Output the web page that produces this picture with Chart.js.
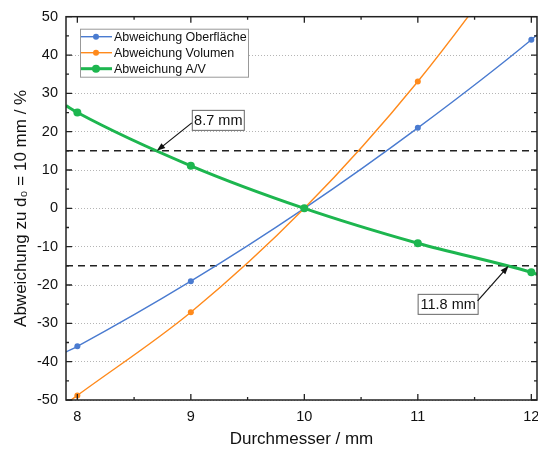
<!DOCTYPE html>
<html>
<head>
<meta charset="utf-8">
<script src="https://cdn.jsdelivr.net/npm/chart.js@4/dist/chart.umd.min.js"></script>
<style>
  html, body { margin: 0; padding: 0; background: #fff; }
  #wrap { width: 538px; height: 449px; }
</style>
</head>
<body>
<div id="wrap"><canvas id="chart"></canvas></div>
<script>
// values
const diameters = [8, 9, 10, 11, 12];
const devSurface = [-36, -19, 0, 21, 44];
const devVolume = [-48.8, -27.1, 0, 33.1, 72.8];
const devRatio = [25, 11.1, 0, -9.1, -16.7];

// where the curves leave the plot area (no markers there)
const edgeX = [7.9, 12.05];
const edgeSurface = [-37.5, 45.3];
const edgeVolume = [-51, 75];
const edgeRatio = [26.8, -17.2];

const xTicks = [8, 9, 10, 11, 12];
const limitLines = [15, -15];
const crossings = [8.7, 11.8];
const crossingLabels = ['8.7 mm', '11.8 mm'];

const FONT = "'Liberation Sans', Arial, sans-serif";
const BLUE = '#4a7bd0';
const ORANGE = '#ff8a1c';
const GREEN = '#1db64f';

function withEdges(values, edges) {
  const pts = [{ x: edgeX[0], y: edges[0] }];
  diameters.forEach((d, i) => pts.push({ x: d, y: values[i] }));
  pts.push({ x: edgeX[1], y: edges[1] });
  return pts;
}

function markerRadius(r) {
  return (ctx) => (ctx.dataIndex === 0 || ctx.dataIndex === diameters.length + 1) ? 0 : r;
}

const seriesInfo = [
  { label: 'Abweichung Oberfläche', color: BLUE, width: 1.4, radius: 3 },
  { label: 'Abweichung Volumen', color: ORANGE, width: 1.4, radius: 3 },
  { label: 'Abweichung A/V', color: GREEN, width: 3, radius: 4 }
];

// ticks pointing inwards, frame, legend and the two annotations
const decorations = {
  id: 'decorations',
  afterDatasetsDraw(chart) {
    const { ctx, chartArea: a, scales } = chart;
    const xs = scales.x, ys = scales.y;
    ctx.save();

    // frame
    ctx.strokeStyle = '#222';
    ctx.lineWidth = 1.5;
    ctx.strokeRect(a.left, a.top, a.right - a.left, a.bottom - a.top);

    // inward ticks
    ctx.lineWidth = 1.3;
    ctx.beginPath();
    for (let v = 8; v <= 12; v += 0.5) {
      const px = xs.getPixelForValue(v);
      const len = Number.isInteger(v) ? 6 : 3;
      ctx.moveTo(px, a.bottom); ctx.lineTo(px, a.bottom - len);
      ctx.moveTo(px, a.top); ctx.lineTo(px, a.top + len);
    }
    for (let v = -50; v <= 50; v += 5) {
      const py = ys.getPixelForValue(v);
      const len = v % 10 === 0 ? 6 : 3;
      ctx.moveTo(a.left, py); ctx.lineTo(a.left + len, py);
      ctx.moveTo(a.right, py); ctx.lineTo(a.right - len, py);
    }
    ctx.stroke();

    // legend
    const lx = a.left + 14, ly = a.top + 12;
    ctx.fillStyle = '#fff';
    ctx.fillRect(lx, ly, 168, 48);
    ctx.strokeStyle = '#999';
    ctx.lineWidth = 1;
    ctx.strokeRect(lx + 0.5, ly + 0.5, 168, 48);
    ctx.font = '12.5px ' + FONT;
    ctx.textBaseline = 'middle';
    seriesInfo.forEach((s, i) => {
      const y = ly + 8 + i * 16;
      ctx.strokeStyle = s.color;
      ctx.lineWidth = s.width;
      ctx.beginPath();
      ctx.moveTo(lx + 1, y); ctx.lineTo(lx + 32, y);
      ctx.stroke();
      ctx.fillStyle = s.color;
      ctx.beginPath();
      ctx.arc(lx + 16, y, s.radius, 0, Math.PI * 2);
      ctx.fill();
      ctx.fillStyle = '#111';
      ctx.fillText(s.label, lx + 34, y + 0.5);
    });

    // annotations: box + arrow to the crossing of A/V with ±15 %
    const boxes = [
      { dx: 35, dy: -41, w: 52, h: 20, tail: [35, -28] },
      { dx: -91, dy: 28, w: 60, h: 20, tail: [-31, 35] }
    ];
    crossings.forEach((xv, i) => {
      const tx = xs.getPixelForValue(xv);
      const ty = ys.getPixelForValue(limitLines[i]);
      const b = boxes[i];
      const bx = tx + b.dx, by = ty + b.dy;
      ctx.fillStyle = '#fff';
      ctx.fillRect(bx, by, b.w, b.h);
      ctx.strokeStyle = '#666';
      ctx.lineWidth = 1;
      ctx.strokeRect(bx + 0.5, by + 0.5, b.w, b.h);
      ctx.fillStyle = '#111';
      ctx.font = '14.5px ' + FONT;
      ctx.textAlign = 'center';
      ctx.fillText(crossingLabels[i], bx + b.w / 2 + 0.5, by + b.h / 2 + 1);
      ctx.textAlign = 'left';

      // arrow
      const sx = tx + b.tail[0], sy = ty + b.tail[1];
      const ang = Math.atan2(ty - sy, tx - sx);
      ctx.strokeStyle = '#111';
      ctx.lineWidth = 1.2;
      ctx.beginPath();
      ctx.moveTo(sx, sy);
      ctx.lineTo(tx - Math.cos(ang) * 4, ty - Math.sin(ang) * 4);
      ctx.stroke();
      ctx.fillStyle = '#111';
      ctx.beginPath();
      ctx.moveTo(tx, ty);
      ctx.lineTo(tx - Math.cos(ang - 0.35) * 9, ty - Math.sin(ang - 0.35) * 9);
      ctx.lineTo(tx - Math.cos(ang + 0.35) * 9, ty - Math.sin(ang + 0.35) * 9);
      ctx.closePath();
      ctx.fill();
    });

    ctx.restore();
  }
};

const limitDatasets = limitLines.map((v) => ({
  label: 'limit ' + v,
  data: [{ x: edgeX[0], y: v }, { x: edgeX[1], y: v }],
  borderColor: '#222',
  borderWidth: 1.5,
  borderDash: [7, 5],
  pointRadius: 0,
  clip: 0,
  order: 5
}));

const curveData = [
  withEdges(devSurface, edgeSurface),
  withEdges(devVolume, edgeVolume),
  withEdges(devRatio, edgeRatio)
];

new Chart(document.getElementById('chart'), {
  type: 'line',
  data: {
    datasets: limitDatasets.concat(seriesInfo.map((s, i) => ({
      label: s.label,
      data: curveData[i],
      borderColor: s.color,
      backgroundColor: s.color,
      borderWidth: s.width,
      pointRadius: markerRadius(s.radius),
      pointBorderWidth: 0,
      cubicInterpolationMode: 'monotone',
      clip: 0,
      order: 3 - i
    })))
  },
  options: {
    responsive: true,
    maintainAspectRatio: false,
    animation: false,
    layout: { autoPadding: false, padding: { top: 15, right: 1, left: 0, bottom: 0 } },
    scales: {
      x: {
        type: 'linear',
        min: edgeX[0],
        max: edgeX[1],
        afterBuildTicks: (scale) => { scale.ticks = xTicks.map((v) => ({ value: v })); },
        afterFit: (scale) => {
          scale.height = 49;
          scale.paddingLeft = 0;
          scale.paddingRight = 0;
        },
        grid: { display: false, drawTicks: false },
        border: { display: false },
        ticks: { padding: 8, color: '#111', font: { family: FONT, size: 14.5 } },
        title: {
          display: true,
          text: 'Durchmesser / mm',
          color: '#111',
          font: { family: FONT, size: 17 },
          padding: { top: 4, bottom: -1 }
        }
      },
      y: {
        min: -50,
        max: 50,
        afterFit: (scale) => { scale.width = 66; },
        ticks: { stepSize: 10, padding: 8, color: '#111', font: { family: FONT, size: 14.5 } },
        grid: { color: '#b5b5b5', lineWidth: 1, drawTicks: false },
        border: { display: false, dash: [1, 2] },
        title: {
          display: true,
          text: 'Abweichung zu d₀ = 10 mm / %',
          color: '#111',
          font: { family: FONT, size: 17 },
          padding: { top: 11, bottom: 0 }
        }
      }
    },
    plugins: {
      legend: { display: false },
      tooltip: { enabled: false }
    }
  },
  plugins: [decorations]
});
</script>
</body>
</html>
